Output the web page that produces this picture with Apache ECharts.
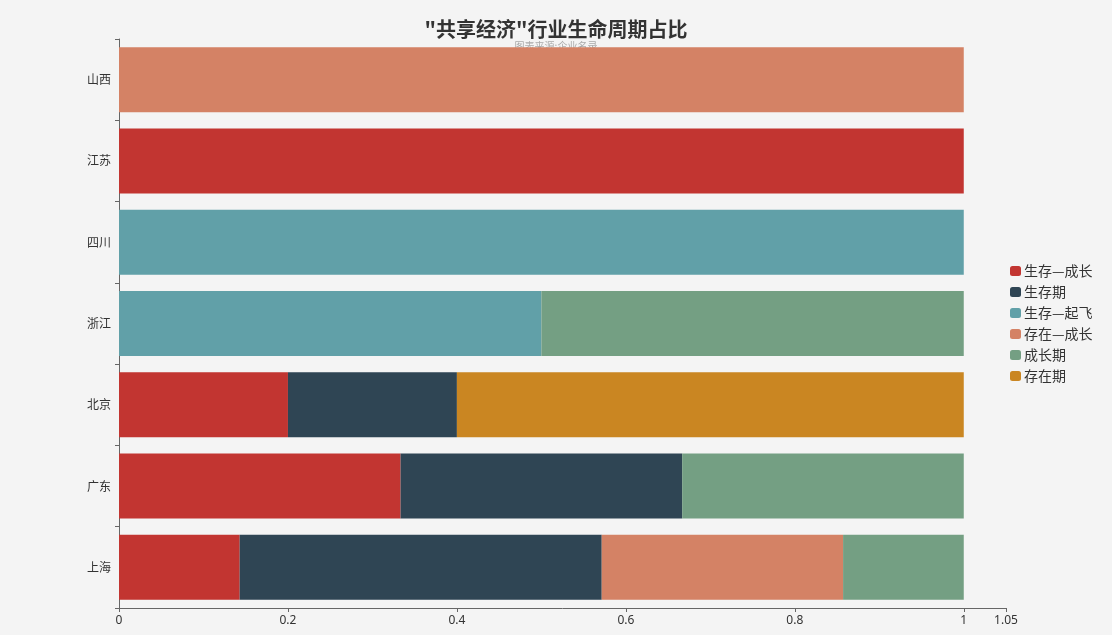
<!DOCTYPE html>
<html><head><meta charset="utf-8">
<script src="https://cdn.jsdelivr.net/npm/echarts@6/dist/echarts.min.js"></script>
<style>html,body{margin:0;padding:0;background:#f4f4f4;}#c{width:1112px;height:635px;}</style>
</head><body><div id="c"></div>
<script>
var categories = ['上海', '广东', '北京', '浙江', '四川', '江苏', '山西'];
var seriesNames = ['生存—成长', '生存期', '生存—起飞', '存在—成长', '成长期', '存在期'];
var s1 = [1/7, 1/3, 0.2, 0, 0, 1, 0];      // 生存—成长
var s2 = [3/7, 1/3, 0.2, 0, 0, 0, 0];      // 生存期
var s3 = [0, 0, 0, 0.5, 1, 0, 0];          // 生存—起飞
var s4 = [2/7, 0, 0, 0, 0, 0, 1];          // 存在—成长
var s5 = [1/7, 1/3, 0, 0.5, 0, 0, 0];      // 成长期
var s6 = [0, 0, 0.6, 0, 0, 0, 0];          // 存在期
var xTicks = [0, 0.2, 0.4, 0.6, 0.8, 1, 1.05];
var colors = ['#c23531', '#2f4554', '#61a0a8', '#d48265', '#749f83', '#ca8622'];
var values = [s1, s2, s3, s4, s5, s6];

var chart = echarts.init(document.getElementById('c'));
chart.setOption({
  backgroundColor: '#f4f4f4',
  color: colors,
  title: {
    text: '"共享经济"行业生命周期占比',
    subtext: '图表来源:企业名录',
    left: 'center', top: 14, itemGap: 2, z: 0,
    textStyle: {fontSize: 20, fontWeight: 'bold', color: '#333', fontFamily: 'Noto Sans CJK SC'},
    subtextStyle: {fontSize: 10, color: '#aaa', fontFamily: 'Noto Sans CJK SC'}
  },
  legend: {
    orient: 'vertical', left: 1005, top: 259, itemGap: 7,
    itemWidth: 11, itemHeight: 10, icon: 'roundRect',
    textStyle: {fontSize: 14, color: '#333', fontFamily: 'Noto Sans CJK SC', padding: [0, 0, 0, -2]},
    data: seriesNames
  },
  grid: {left: 119, right: 106, top: 39, bottom: 27, containLabel: false},
  xAxis: {
    type: 'value', min: 0, max: 1.05,
    axisLine: {show: true, lineStyle: {color: '#666'}},
    axisTick: {show: true, customValues: xTicks, length: 4},
    axisLabel: {customValues: xTicks, color: '#333', fontSize: 12, fontFamily: 'Noto Sans', margin: 7},
    splitLine: {show: false}
  },
  yAxis: {
    type: 'category', data: categories,
    axisLine: {show: true, lineStyle: {color: '#666'}},
    axisTick: {show: true, length: 4},
    axisLabel: {color: '#333', fontSize: 12, fontFamily: 'Noto Sans CJK SC', margin: 8}
  },
  series: seriesNames.map(function (n, i) {
    return {name: n, type: 'bar', stack: 'total', barCategoryGap: '20%', data: values[i], z: 3};
  })
});
</script></body></html>
